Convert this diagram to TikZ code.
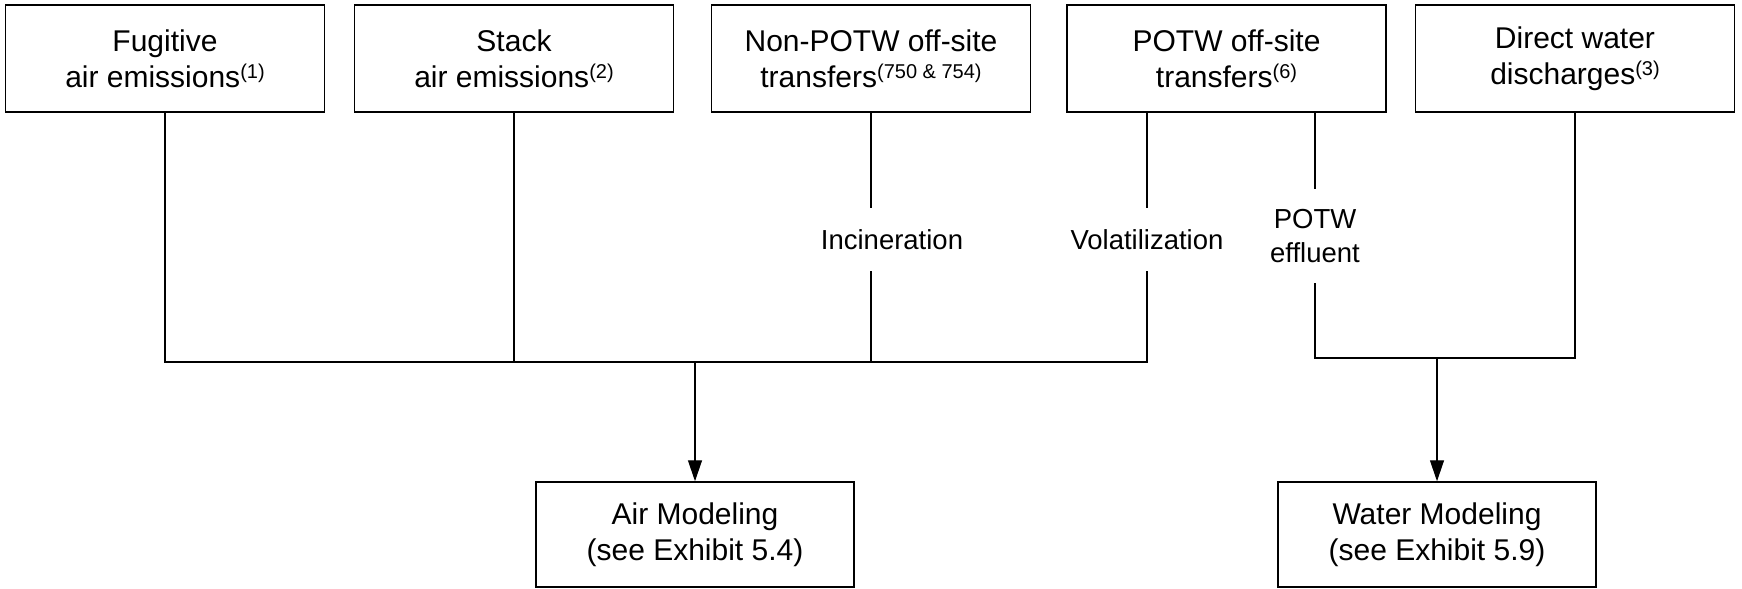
\documentclass[tikz,border=0pt]{standalone}
\usepackage{fontspec}
\setmainfont{Liberation Sans}
\usetikzlibrary{arrows.meta}
\newcommand\supr[1]{\raisebox{4.5pt}{\fontsize{10}{10}\selectfont #1}}
\tikzset{
  boxtxt/.style={font=\fontsize{15}{18}\selectfont, align=center, inner sep=0pt},
  topbox/.style={boxtxt, draw, line width=0.75pt, minimum width=159.5pt, minimum height=53.5pt},
  botbox/.style={boxtxt, draw, line width=0.75pt, minimum width=159pt, minimum height=52.5pt},
  lbl/.style={font=\fontsize{13.75}{17}\selectfont, align=center, inner sep=0pt, minimum width=0pt},
  conn/.style={line width=0.65pt},
  arr/.style={conn, -{Triangle[length=10.5pt,width=7pt]}}
}
\begin{document}
\begin{tikzpicture}[x=0.5pt,y=-0.5pt]
\useasboundingbox (0,0) rectangle (1742,589);
% top boxes
\node[topbox] (b1) at (165,58.5) {Fugitive\\air emissions\supr{(1)}};
\node[topbox] (b2) at (514,58.5) {Stack\\air emissions\supr{(2)}};
\node[topbox] (b3) at (871,58.5) {Non-POTW off-site\\transfers\supr{(750 \& 754)}};
\node[topbox] (b4) at (1226.5,58.5) {POTW off-site\\transfers\supr{(6)}};
\node[topbox] (b5) at (1575,58.5) {Direct water\\discharges\supr{(3)}};
% bottom boxes
\node[botbox] (air) at (695,534.5) {Air Modeling\\(see Exhibit 5.4)};
\node[botbox] (water) at (1437,534.5) {Water Modeling\\(see Exhibit 5.9)};
% labels
\node[lbl, minimum height=31.5pt] (inc) at (892,239.5) {Incineration};
\node[lbl, minimum height=31.5pt] (vol) at (1147,239.5) {Volatilization};
\node[lbl, minimum height=47pt] (eff) at (1315,236) {POTW\\effluent};
% junction coordinates
\coordinate (b4l) at ([xshift=-39.75pt]b4.south);
\coordinate (b4r) at ([xshift=44.25pt]b4.south);
\coordinate (bus) at (695,362);
\coordinate (wbus) at (1437,358);
% air connectors
\draw[conn] (b1.south) -- (b1.south |- bus) -- (vol.south |- bus) -- (vol.south);
\draw[conn] (vol.north) -- (b4l);
\draw[conn] (b2.south) -- (b2.south |- bus);
\draw[conn] (b3.south) -- (b3.south |- inc.north);
\draw[conn] (b3.south |- inc.south) -- (b3.south |- bus);
\draw[arr] (bus) -- (air.north);
% water connectors
\draw[conn] (b4r) -- (eff.north);
\draw[conn] (eff.south) -- (eff.south |- wbus) -- (b5.south |- wbus) -- (b5.south);
\draw[arr] (wbus) -- (water.north);
\end{tikzpicture}
\end{document}
